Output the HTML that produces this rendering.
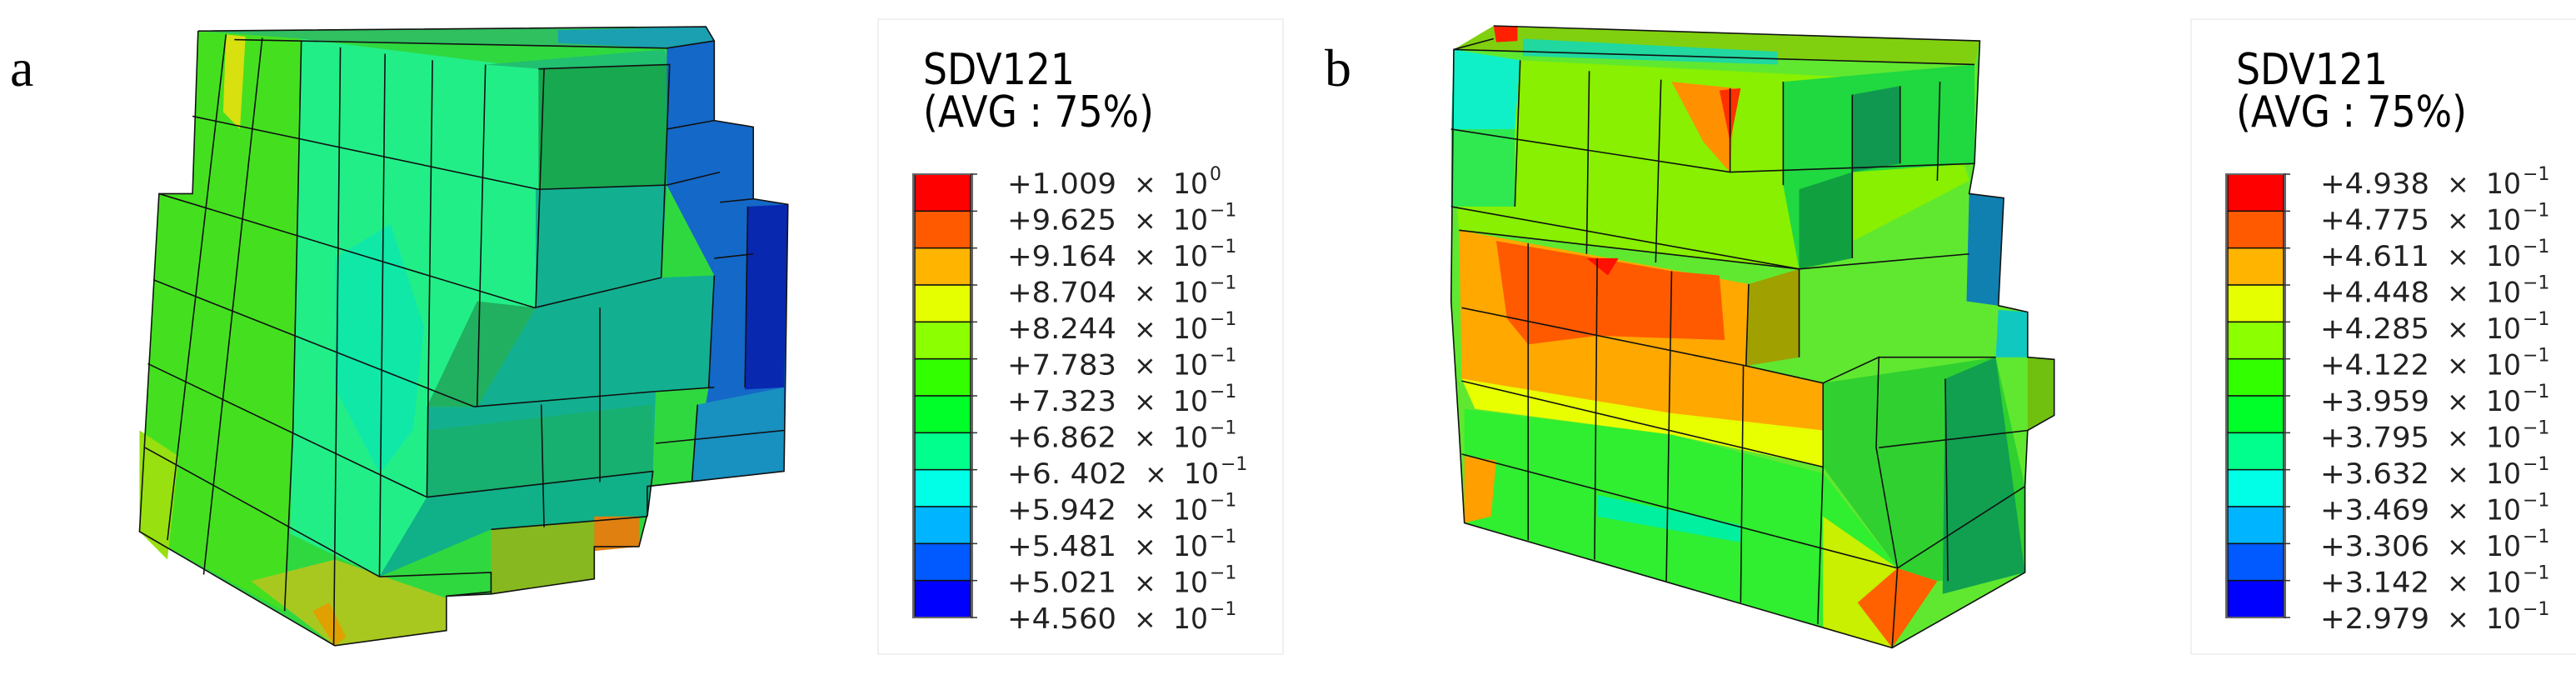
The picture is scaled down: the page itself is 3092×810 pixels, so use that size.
<!DOCTYPE html>
<html><head><meta charset="utf-8"><style>
html,body{margin:0;padding:0;background:#fff;}
svg{display:block;}
text{font-family:"DejaVu Sans","Liberation Sans",sans-serif;}
.ln{stroke:#111;stroke-width:1.6;fill:none;vector-effect:non-scaling-stroke;}
</style></head><body>
<svg id="root" width="3092" height="810" viewBox="0 0 3092 810" xmlns="http://www.w3.org/2000/svg">
<rect width="3092" height="810" fill="#fff"/>
<text x="12" y="103" font-family="Liberation Serif, serif" style="font-family:'Liberation Serif',serif" font-size="64">a</text>
<text x="1590" y="103" style="font-family:'Liberation Serif',serif" font-size="64">b</text>

<!-- Model a -->
<g transform="scale(0.6698,0.5165)">
<path d="M355,72 L1265,62 L1280,95 L1280,280 L1350,295 L1350,462 L1412,475 L1405,1095 L1160,1130 L1160,1195 L1145,1270 L1065,1270 L1065,1345 L880,1380 L800,1385 L800,1465 L600,1500 L250,1235 L285,450 L345,450 Z" fill="#30d840"/>
<path d="M355,72 L1265,62 L1280,95 L1195,112 L420,92 Z" fill="#30c060"/>
<path d="M1000,70 L1265,62 L1280,95 L1195,112 L1000,100Z" fill="#1aa0b0"/>
<path d="M355,72 L540,90 L525,1000 L510,1420 L250,1235 L285,450 L345,450 Z" fill="#44e020"/>
<path d="M405,80 L440,85 L430,300 L400,260 Z" fill="#d8e010"/>
<path d="M250,1000 L320,1060 L300,1300 L250,1235 Z" fill="#98e010"/>
<path d="M450,1350 L600,1500 L800,1465 L800,1390 L600,1300 Z" fill="#a8c820"/>
<path d="M540,90 L970,160 L960,715 L850,945 L765,945 L765,1155 L680,1340 L600,1290 L520,1240 L525,1000 Z" fill="#22ee88"/>
<path d="M600,600 L700,520 L760,760 L740,1000 L680,1100 L600,900Z" fill="#10e8a8"/>
<path d="M870,150 L1190,115 L1200,150 L965,160 Z" fill="#20c070"/>
<path d="M965,160 L1200,150 L1195,430 L965,440 Z" fill="#18a850"/>
<path d="M960,440 L1195,430 L1185,645 L1280,640 L1270,900 L1175,910 L1170,1095 L765,1155 L765,945 L855,945 L960,715 Z" fill="#12b090"/>
<path d="M855,700 L960,715 L855,945 L765,945 Z" fill="#20b060"/>
<path d="M765,1000 L1170,940 L1170,1095 L765,1155Z" fill="#18b070"/>
<path d="M1195,112 L1280,95 L1280,280 L1350,295 L1350,462 L1412,475 L1405,1095 L1240,1120 L1270,900 L1280,640 L1195,430 Z" fill="#1468c8"/>
<path d="M1340,480 L1412,475 L1405,900 L1335,905 Z" fill="#0828b0"/>
<path d="M1250,940 L1405,900 L1405,1095 L1240,1120 Z" fill="#1890c0"/>
<path d="M680,1340 L765,1155 L1170,1095 L1160,1200 L880,1230 L680,1340Z" fill="#10b088"/>
<path d="M880,1230 L1065,1210 L1065,1345 L880,1380 Z" fill="#88b820"/>
<path d="M1065,1200 L1145,1200 L1145,1270 L1065,1280 Z" fill="#e08010"/>
<path d="M560,1420 L600,1500 L620,1480 L590,1400Z" fill="#e0a000"/>
<g>
<path class="ln" d="M355,72 L1265,62 L1280,95 L1280,280 L1350,295 L1350,462 L1412,475 L1405,1095 L1160,1130 L1160,1195 L1145,1270 L1065,1270 L1065,1345 L880,1380 L800,1385 L800,1465 L600,1500 L250,1235 L285,450 L345,450 L355,72"/>
<path class="ln" d="M420,92 L1195,112 L1280,95"/>
<path class="ln" d="M405,80 L300,1255 M470,88 L365,1335 M540,95 L525,1000 L510,1420 M610,110 L598,1500 M690,125 L680,1340 M775,140 L765,1155 M870,150 L855,945 M975,160 L960,715"/>
<path class="ln" d="M345,270 L965,440 M285,450 L958,715 M275,650 L850,945 M265,845 L765,1155 M260,1040 L680,1340"/>
<path class="ln" d="M965,160 L1200,150 L1185,645 M965,440 L1195,430 M958,715 L1185,645 M850,945 L1170,910 L1280,900 M765,1155 L1170,1095 L1160,1200 M680,1340 L880,1330 L880,1380 M800,1385 L880,1375 M880,1230 L1160,1200 M1075,715 L1075,1120 M970,940 L975,1225 M1280,640 L1270,900 M1195,430 L1290,400 M1280,280 L1195,300 M1350,462 L1290,470 M1350,590 L1280,600 M1335,900 L1340,480 M1240,1120 L1250,940 M1175,1030 L1405,1000"/>
</g>
</g>

<!-- Model b -->
<g transform="translate(1560,0) scale(0.6378,0.5165)">
<path d="M365,60 L1280,95 L1270,380 L1260,450 L1325,460 L1315,710 L1370,725 L1370,830 L1420,835 L1420,965 L1370,1000 L1365,1130 L1365,1330 L1115,1505 L310,1215 L300,1000 L285,700 L290,115 L365,90 Z" fill="#60e830"/>
<path d="M365,60 L1280,95 L1270,150 L290,115 Z" fill="#80d010"/>
<path d="M420,90 L900,120 L900,150 L420,130Z" fill="#20d8a0"/>
<path d="M365,60 L410,60 L410,95 L370,98 Z" fill="#ff2000"/>
<path d="M290,115 L415,140 L405,300 L285,300 Z" fill="#10f0c8"/>
<path d="M415,140 L1205,190 L1260,420 L940,625 L300,535 L285,300 L405,300 Z" fill="#88f000"/>
<path d="M285,300 L405,300 L405,480 L285,480Z" fill="#30e850"/>
<path d="M700,190 L820,205 L810,400 L760,330 Z" fill="#ff9000"/>
<path d="M790,210 L830,205 L810,330 Z" fill="#ff3000"/>
<path d="M910,190 L1270,150 L1270,380 L1040,400 L940,625 L910,430 Z" fill="#20d840"/>
<path d="M1040,220 L1130,200 L1130,380 L1040,400 Z" fill="#109850"/>
<path d="M940,440 L1040,400 L1040,600 L940,625Z" fill="#10a040"/>
<path d="M300,535 L845,660 L840,850 L985,890 L985,1085 L305,880 Z" fill="#ffa800"/>
<path d="M370,560 L560,600 L700,630 L790,640 L800,790 L560,780 L430,800 L390,740 Z" fill="#ff5a00"/>
<path d="M540,600 L600,600 L580,640Z" fill="#ff1000"/>
<path d="M845,660 L940,625 L940,830 L840,850Z" fill="#a0a000"/>
<path d="M305,880 L700,960 L985,1000 L985,1085 L700,1010 L330,950 Z" fill="#e8ff00"/>
<path d="M310,950 L700,1010 L985,1100 L1125,1320 L1115,1505 L310,1215 Z" fill="#30ee30"/>
<path d="M560,1150 L830,1220 L830,1260 L560,1200 Z" fill="#00f0a0"/>
<path d="M310,1060 L370,1070 L360,1200 L310,1215 Z" fill="#ffa000"/>
<path d="M985,1200 L1125,1320 L1115,1505 L985,1460Z" fill="#c8f000"/>
<path d="M1050,1400 L1125,1320 L1200,1350 L1115,1505 Z" fill="#ff6000"/>
<path d="M985,890 L1310,830 L1365,1130 L1365,1330 L1200,1350 L1125,1320 L985,1085 Z" fill="#30d030"/>
<path d="M1215,880 L1310,830 L1365,1330 L1210,1380Z" fill="#10a050"/>
<path d="M1260,450 L1325,460 L1315,710 L1255,700 Z" fill="#1080b0"/>
<path d="M1315,720 L1370,725 L1370,830 L1310,830 Z" fill="#10c8c0"/>
<path d="M1370,830 L1420,835 L1420,965 L1370,1000Z" fill="#70c010"/>
<g>
<path class="ln" d="M365,60 L1280,95 L1270,380 L1260,450 L1325,460 L1315,710 L1370,725 L1370,830 L1420,835 L1420,965 L1370,1000 L1365,1130 L1365,1330 L1115,1505 L310,1215 L300,1000 L285,700 L290,115 L365,90"/>
<path class="ln" d="M290,115 L1270,150 M415,140 L405,480 M545,165 L540,590 M680,185 L670,610 M810,205 L810,400 M910,190 L910,430 M1040,220 L1040,600 M1130,200 L1130,380 M1205,190 L1200,420"/>
<path class="ln" d="M285,300 L810,400 L1270,380 M285,480 L940,625 L1260,590"/>
<path class="ln" d="M300,535 L940,625 L940,830 M845,660 L840,850 L985,890 L985,1085 M1090,830 L1310,830 M985,890 L1090,830 L1085,1040 L1125,1320 M1215,880 L1220,1350 M1090,1040 L1370,1000"/>
<path class="ln" d="M305,715 L840,850 M305,885 L985,1085 M305,1055 L1125,1320 L1365,1130 M1125,1320 L1115,1505"/>
<path class="ln" d="M430,565 L430,1255 M560,600 L555,1300 M700,630 L690,1350 M835,850 L830,1400 M985,1085 L975,1450"/>
</g>
</g>

<!-- Legends -->
<rect x="1054" y="23" width="486" height="762" fill="none" stroke="#f0f0f0" stroke-width="2"/>
<rect x="2630" y="23" width="470" height="762" fill="none" stroke="#f0f0f0" stroke-width="2"/>
<g id="legA"></g>
<g id="legB"></g>
</svg>
<script>
const bandColors = ["#ff0000","#ff5a00","#ffb400","#e6ff00","#8cff00","#32ff00","#00ff28","#00ff8c","#00ffe6","#00b4ff","#005aff","#0000ff"];
const valuesA = ["+1.009","+9.625","+9.164","+8.704","+8.244","+7.783","+7.323","+6.862","+6. 402","+5.942","+5.481","+5.021","+4.560"];
const expA = ["0","\u22121","\u22121","\u22121","\u22121","\u22121","\u22121","\u22121","\u22121","\u22121","\u22121","\u22121","\u22121"];
const valuesB = ["+4.938","+4.775","+4.611","+4.448","+4.285","+4.122","+3.959","+3.795","+3.632","+3.469","+3.306","+3.142","+2.979"];
const expB = ["\u22121","\u22121","\u22121","\u22121","\u22121","\u22121","\u22121","\u22121","\u22121","\u22121","\u22121","\u22121","\u22121"];
const NS="http://www.w3.org/2000/svg";
function mk(tag, attrs, parent){const e=document.createElementNS(NS,tag);for(const k in attrs)e.setAttribute(k,attrs[k]);parent.appendChild(e);return e;}
function legend(g, x0, values, exps){
  const top=209, bot=741, n=bandColors.length, h=(bot-top)/n;
  const t1=mk('text',{x:x0+10,y:101,'font-size':52,textLength:182,lengthAdjust:'spacingAndGlyphs'},g);t1.textContent='SDV121';
  
  
  const t2=mk('text',{x:x0+10,y:152,'font-size':52,textLength:277,lengthAdjust:'spacingAndGlyphs'},g);t2.textContent='(AVG : 75%)';
  
  
  bandColors.forEach((c,i)=>{
    const r=mk('rect',{x:x0,y:top+i*h,width:67,height:h,fill:c,stroke:'#111','stroke-width':1.5},g);
    
    
  });
  mk('rect',{x:x0-2,y:top,width:71,height:bot-top,fill:'none',stroke:'#666','stroke-width':2},g);
  values.forEach((v,i)=>{
    const y=top+i*h;
    mk('line',{x1:x0+67,x2:x0+75,y1:y,y2:y,stroke:'#333','stroke-width':1.5},g);
    const ty=220+i*43.5+12;
    const shift = v.indexOf(' ')>=0 ? 13 : 0;
    const lt=mk('text',{x:x0+111,y:ty,'font-size':34,fill:'#222',textLength:131+shift,lengthAdjust:'spacingAndGlyphs'},g);lt.textContent=v;
    
    
    const xt=mk('text',{x:x0+263+shift,y:ty,'font-size':32,fill:'#222'},g);xt.textContent='\u00d7';
    const tt=mk('text',{x:x0+310+shift,y:ty,'font-size':34,fill:'#222',textLength:42,lengthAdjust:'spacingAndGlyphs'},g);tt.textContent='10';
    const et=mk('text',{x:x0+354+shift,y:ty-16,'font-size':22,fill:'#222'},g);et.textContent=exps[i];
  });
}
legend(document.getElementById('legA'),1098,valuesA,expA);
legend(document.getElementById('legB'),2674,valuesB,expB);
</script>
</body></html>
